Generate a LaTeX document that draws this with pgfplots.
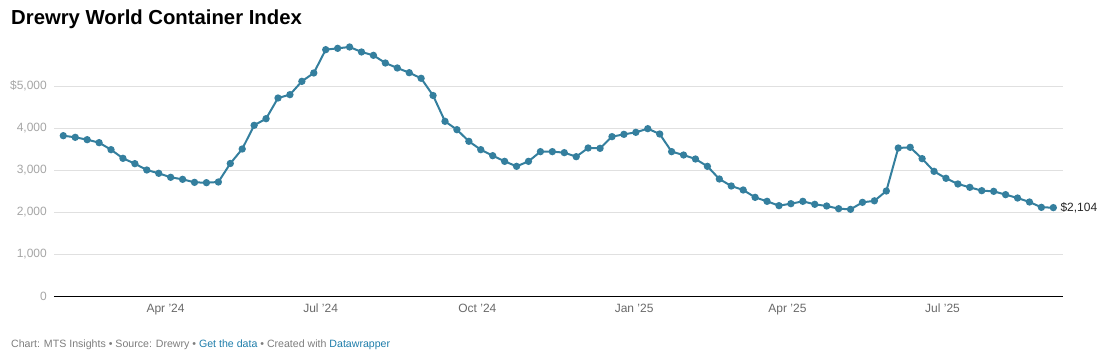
\documentclass[border=0pt]{standalone}
\usepackage{fontspec}
\setmainfont{Liberation Sans}
\usepackage{pgfplots}
\pgfplotsset{compat=1.18}
\definecolor{wci}{RGB}{52,127,158}
\definecolor{ylab}{RGB}{165,165,165}
\definecolor{xlab}{RGB}{105,105,105}
\definecolor{foot}{RGB}{125,125,125}
\definecolor{link}{RGB}{30,125,170}
\definecolor{gridc}{RGB}{224,224,224}
\pgfplotstableread{
idx val
0 3817
1 3778
2 3722
3 3651
4 3484
5 3278
6 3151
7 3000
8 2921
9 2826
10 2778
11 2706
12 2698
13 2714
14 3155
15 3500
16 4064
17 4222
18 4714
19 4794
20 5111
21 5310
22 5865
23 5897
24 5929
25 5810
26 5730
27 5548
28 5429
29 5317
30 5183
31 4774
32 4159
33 3960
34 3683
35 3484
36 3341
37 3206
38 3087
39 3206
40 3437
41 3437
42 3413
43 3317
44 3524
45 3516
46 3794
47 3849
48 3897
49 3984
50 3857
51 3437
52 3357
53 3262
54 3087
55 2786
56 2619
57 2524
58 2349
59 2254
60 2151
61 2198
62 2254
63 2183
64 2143
65 2079
66 2063
67 2230
68 2266
69 2500
70 3524
71 3540
72 3270
73 2968
74 2802
75 2667
76 2587
77 2508
78 2492
79 2413
80 2333
81 2238
82 2111
83 2104
}\wcidata
\begin{document}
\begin{tikzpicture}[x=1pt,y=1pt]
\useasboundingbox (0,0) rectangle (1105,356);
\node[anchor=base west, inner sep=0pt] at (11,331) {\fontsize{20.3}{24}\selectfont\bfseries Drewry World Container Index};
\begin{axis}[
  at={(54pt,60pt)}, anchor=south west,
  scale only axis, width=1008.7pt, height=252pt,
  xmin=-0.78, xmax=83.79, ymin=0, ymax=6000,
  axis x line*=bottom, axis y line*=left,
  y axis line style={draw=none},
  x axis line style={black, line width=1pt, -},
  major tick length=0pt, tick style={draw=none},
  ytick={0,1000,2000,3000,4000,5000},
  yticklabels={0,{1,000},{2,000},{3,000},{4,000},{\$5,000}},
  xtick={8.571,21.571,34.714,47.857,60.714,73.714},
  xticklabels={Apr '24,Jul '24,Oct '24,Jan '25,Apr '25,Jul '25},
  ymajorgrids, grid style={color=gridc, line width=0.9pt},
  yticklabel style={anchor=east, inner sep=0pt, xshift=-7pt, text=ylab, font=\fontsize{12}{14}\selectfont},
  xticklabel style={anchor=north, inner sep=0pt, yshift=-8pt, text=xlab, font=\fontsize{12}{14}\selectfont},
  clip=false,
]
\addplot[color=wci, line width=2pt, mark=*, mark size=2.6pt, mark options={fill=wci, draw=wci}] table[x=idx, y=val] {\wcidata};
\node[anchor=west, inner sep=0pt, text=black!85, font=\fontsize{12}{14}\selectfont] at (axis cs:83,2104) [xshift=7pt] {\$2,104};
\end{axis}
\node[anchor=base west, inner sep=0pt, font=\fontsize{10.6}{13}\selectfont] at (11,9) {\textcolor{foot}{Chart: MTS Insights • Source: Drewry •} \textcolor{link}{Get the data} \textcolor{foot}{• Created with} \textcolor{link}{Datawrapper}};
\end{tikzpicture}
\end{document}
